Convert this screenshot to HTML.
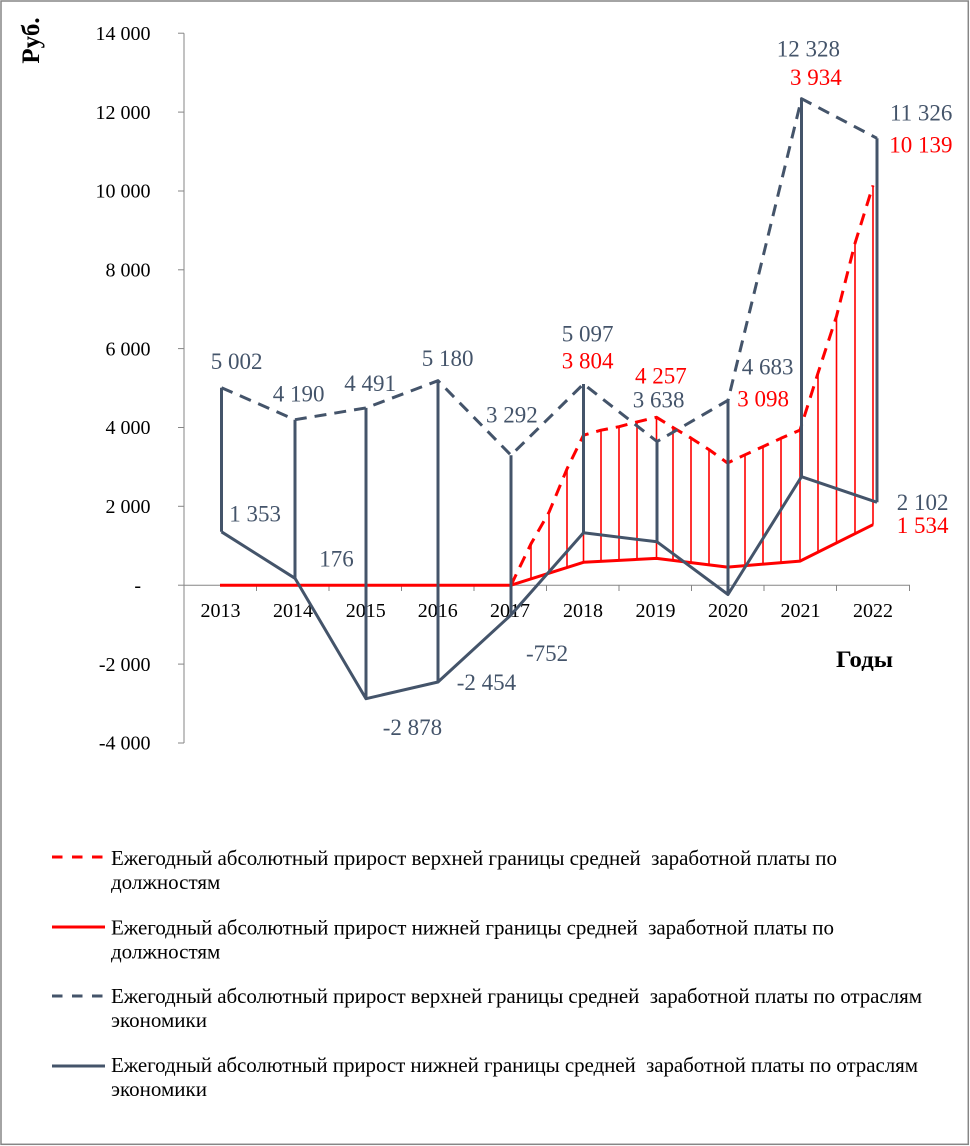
<!DOCTYPE html>
<html>
<head>
<meta charset="utf-8">
<style>
html,body{margin:0;padding:0;background:#fff;}
svg{display:block;font-family:"Liberation Serif","Times New Roman",serif;}
text{font-family:"Liberation Serif","Times New Roman",serif;white-space:pre;}
.ax{font-size:20px;fill:#000;}
.dl{font-size:23px;fill:#44546A;}
.rl{font-size:23px;fill:#FF0000;}
.lg{font-size:21px;fill:#000;}
</style>
</head>
<body>
<svg width="970" height="1146" viewBox="0 0 970 1146" xmlns="http://www.w3.org/2000/svg" font-family="Liberation Serif, serif">
<rect x="0" y="0" width="970" height="1146" fill="#fff"/>
<rect x="1" y="1" width="967.3" height="1143.3" fill="none" stroke="#868686" stroke-width="1.5"/>

<!-- Y axis -->
<g stroke="#868686" stroke-width="1" fill="none">
<line x1="184" y1="33.2" x2="184" y2="743"/>
<line x1="178" y1="33.2" x2="184" y2="33.2"/>
<line x1="178" y1="112.1" x2="184" y2="112.1"/>
<line x1="178" y1="191" x2="184" y2="191"/>
<line x1="178" y1="269.8" x2="184" y2="269.8"/>
<line x1="178" y1="348.6" x2="184" y2="348.6"/>
<line x1="178" y1="427.5" x2="184" y2="427.5"/>
<line x1="178" y1="506.3" x2="184" y2="506.3"/>
<line x1="178" y1="585.2" x2="184" y2="585.2"/>
<line x1="178" y1="664.1" x2="184" y2="664.1"/>
<line x1="178" y1="743" x2="184" y2="743"/>
<!-- X axis -->
<line x1="184" y1="585.2" x2="910" y2="585.2"/>
<line x1="256.5" y1="585.2" x2="256.5" y2="591"/>
<line x1="329" y1="585.2" x2="329" y2="591"/>
<line x1="401.5" y1="585.2" x2="401.5" y2="591"/>
<line x1="474" y1="585.2" x2="474" y2="591"/>
<line x1="546.5" y1="585.2" x2="546.5" y2="591"/>
<line x1="619" y1="585.2" x2="619" y2="591"/>
<line x1="691.5" y1="585.2" x2="691.5" y2="591"/>
<line x1="764" y1="585.2" x2="764" y2="591"/>
<line x1="836.5" y1="585.2" x2="836.5" y2="591"/>
<line x1="909.5" y1="585.2" x2="909.5" y2="591"/>
</g>

<!-- Y labels -->
<g class="ax" text-anchor="end" font-family="Liberation Serif, serif">
<text x="150.5" y="40">14 000</text>
<text x="150.5" y="118.9">12 000</text>
<text x="150.5" y="197.7">10 000</text>
<text x="150.5" y="276.5">8 000</text>
<text x="150.5" y="355.3">6 000</text>
<text x="150.5" y="434.2">4 000</text>
<text x="150.5" y="513">2 000</text>
<text x="141" y="591.9">-</text>
<text x="150.5" y="670.8">-2 000</text>
<text x="150.5" y="749.7">-4 000</text>
</g>
<!-- X labels -->
<g class="ax" text-anchor="middle" font-family="Liberation Serif, serif">
<text x="220.5" y="617">2013</text>
<text x="293" y="617">2014</text>
<text x="365.7" y="617">2015</text>
<text x="437.8" y="617">2016</text>
<text x="510" y="617">2017</text>
<text x="583" y="617">2018</text>
<text x="655.5" y="617">2019</text>
<text x="728" y="617">2020</text>
<text x="800.5" y="617">2021</text>
<text x="873" y="617">2022</text>
</g>

<text x="0" y="0" transform="translate(39,40.5) rotate(-90)" text-anchor="middle" font-family="Liberation Serif, serif" style="font-size:25px;font-weight:bold;">Руб.</text>
<text x="836" y="667" font-family="Liberation Serif, serif" style="font-size:23px;font-weight:bold;" textLength="57" lengthAdjust="spacingAndGlyphs">Годы</text>

<!-- Red high-low lines -->
<g stroke="#FF0000" stroke-width="1.6" fill="none">
<line x1="531" y1="543.8" x2="531" y2="579.5"/>
<line x1="549" y1="512.3" x2="549" y2="573.8"/>
<line x1="567" y1="468.9" x2="567" y2="568.0"/>
<line x1="583.5" y1="435.2" x2="583.5" y2="562.3"/>
<line x1="601" y1="430.2" x2="601" y2="561.3"/>
<line x1="619" y1="426.7" x2="619" y2="560.4"/>
<line x1="637" y1="421.9" x2="637" y2="559.4"/>
<line x1="656.5" y1="417.3" x2="656.5" y2="558.4"/>
<line x1="673" y1="427.5" x2="673" y2="560.6"/>
<line x1="691" y1="438.1" x2="691" y2="562.7"/>
<line x1="709" y1="449.6" x2="709" y2="564.9"/>
<line x1="727.5" y1="463.0" x2="727.5" y2="567.1"/>
<line x1="745" y1="454.8" x2="745" y2="565.6"/>
<line x1="763" y1="446.6" x2="763" y2="564.1"/>
<line x1="781" y1="438.3" x2="781" y2="562.6"/>
<line x1="800" y1="430.1" x2="800" y2="561.1"/>
<line x1="818" y1="373.1" x2="818" y2="552.0"/>
<line x1="836.5" y1="316.3" x2="836.5" y2="542.9"/>
<line x1="855" y1="243.3" x2="855" y2="533.8"/>
<line x1="873" y1="185.4" x2="873" y2="524.7"/>
</g>

<!-- Red solid -->
<polyline fill="none" stroke="#FF0000" stroke-width="3" stroke-linejoin="round"
 points="220,585.2 511,585.2 583.5,562.3 656.5,558.4 727.5,567.1 800,561.1 873,524.7"/>
<!-- Red dashed -->
<polyline fill="none" stroke="#FF0000" stroke-width="3" stroke-dasharray="12 8" stroke-linejoin="round"
 points="511,585.2 531,543.8 549,512.3 567,468.9 583.5,435.2 601,430.2 619,426.7 637,421.9 656.5,417.3 673,427.5 691,438.1 709,449.6 727.5,463.0 745,454.8 763,446.6 781,438.3 800,430.1 818,373.1 836.5,316.3 855,243.3 873,185.4"/>

<!-- Dark verticals -->
<g stroke="#44546A" stroke-width="3" fill="none">
<line x1="221.5" y1="387.7" x2="221.5" y2="531.8"/>
<line x1="295" y1="419.7" x2="295" y2="578.3"/>
<line x1="366" y1="407.9" x2="366" y2="698.7"/>
<line x1="438" y1="380.7" x2="438" y2="682"/>
<line x1="511" y1="455.2" x2="511" y2="614.9"/>
<line x1="583.5" y1="384.0" x2="583.5" y2="532.7"/>
<line x1="657" y1="441.5" x2="657" y2="541.8"/>
<line x1="728" y1="400.3" x2="728" y2="594.5"/>
<line x1="801.5" y1="98.7" x2="801.5" y2="476.7"/>
<line x1="877" y1="138.3" x2="877" y2="502.3"/>
</g>
<!-- Dark solid -->
<polyline fill="none" stroke="#44546A" stroke-width="3" stroke-linejoin="round"
 points="221.5,531.8 295,578.3 366,698.7 438,682 511,614.9 583.5,532.7 657,541.8 728,594.5 801.5,476.7 877,502.3"/>
<!-- Dark dashed -->
<polyline fill="none" stroke="#44546A" stroke-width="3" stroke-dasharray="12 8" stroke-linejoin="round"
 points="221.5,387.7 295,419.7 366,407.9 438,380.7 511,455.2 583.5,384.0 657,441.5 728,400.3 801.5,98.7 877,138.3"/>

<!-- Dark labels -->
<g class="dl" font-family="Liberation Serif, serif">
<text x="210.7" y="369">5 002</text>
<text x="272.7" y="401.7">4 190</text>
<text x="344.3" y="391">4 491</text>
<text x="421.7" y="366">5 180</text>
<text x="486" y="422.7">3 292</text>
<text x="561.7" y="341.7">5 097</text>
<text x="632.7" y="407.3">3 638</text>
<text x="741.7" y="374.3">4 683</text>
<text x="776.7" y="56.7">12 328</text>
<text x="890" y="120.7">11 326</text>
<text x="229.3" y="521.7">1 353</text>
<text x="319.3" y="566.7">176</text>
<text x="382.7" y="735">-2 878</text>
<text x="456.7" y="690">-2 454</text>
<text x="526" y="661">-752</text>
<text x="896.7" y="510">2 102</text>
</g>
<!-- Red labels -->
<g class="rl" font-family="Liberation Serif, serif">
<text x="561.7" y="368.3">3 804</text>
<text x="635" y="383.3">4 257</text>
<text x="737.3" y="406.7">3 098</text>
<text x="790" y="85">3 934</text>
<text x="889.3" y="152.7">10 139</text>
<text x="896.7" y="533">1 534</text>
</g>

<!-- Legend -->
<g font-family="Liberation Serif, serif">
<line x1="52" y1="857" x2="105" y2="857" stroke="#FF0000" stroke-width="3" stroke-dasharray="10.5 9.5"/>
<text class="lg" x="111" y="865" textLength="726" lengthAdjust="spacing">Ежегодный абсолютный прирост верхней границы средней  заработной платы по</text>
<text class="lg" x="111" y="889">должностям</text>

<line x1="52" y1="927" x2="105" y2="927" stroke="#FF0000" stroke-width="3"/>
<text class="lg" x="111" y="934.5" textLength="723" lengthAdjust="spacing">Ежегодный абсолютный прирост нижней границы средней  заработной платы по</text>
<text class="lg" x="111" y="958.5">должностям</text>

<line x1="52" y1="996" x2="105" y2="996" stroke="#44546A" stroke-width="3" stroke-dasharray="10.5 9.5"/>
<text class="lg" x="111" y="1003" textLength="811" lengthAdjust="spacing">Ежегодный абсолютный прирост верхней границы средней  заработной платы по отраслям</text>
<text class="lg" x="111" y="1027">экономики</text>

<line x1="52" y1="1066" x2="105" y2="1066" stroke="#44546A" stroke-width="3"/>
<text class="lg" x="111" y="1072" textLength="807" lengthAdjust="spacing">Ежегодный абсолютный прирост нижней границы средней  заработной платы по отраслям</text>
<text class="lg" x="111" y="1096">экономики</text>
</g>
</svg>
</body>
</html>
